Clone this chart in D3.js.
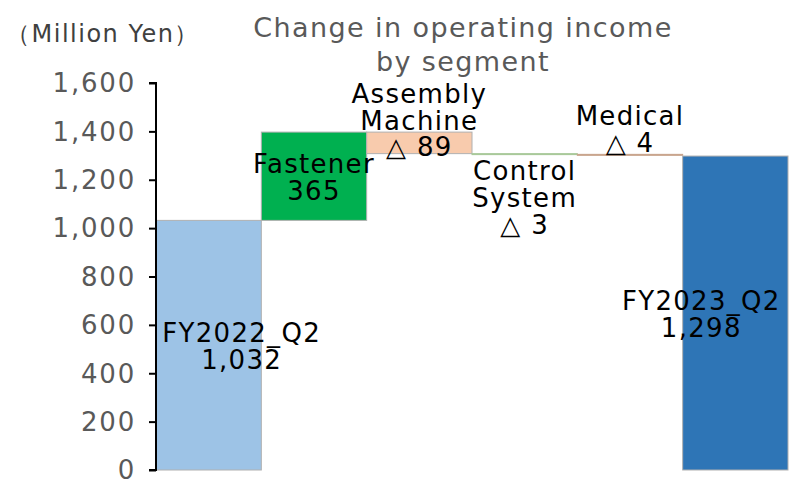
<!DOCTYPE html>
<html>
<head>
<meta charset="utf-8">
<script src="https://cdn.jsdelivr.net/npm/d3@7"></script>
<style>
  body { margin: 0; background: #fff; }
  svg { font-family: "DejaVu Sans", sans-serif; }
</style>
</head>
<body>
<svg id="chart" width="794" height="481"></svg>
<script>
// waterfall data
const categories = ["FY2022_Q2", "Fastener", "Assembly Machine", "Control System", "Medical", "FY2023_Q2"];
const values = [1032, 365, -89, -3, -4, 1298];
const isTotal = [true, false, false, false, false, true];
const nameLines = [["FY2022_Q2"], ["Fastener"], ["Assembly", "Machine"], ["Control", "System"], ["Medical"], ["FY2023_Q2"]];
const valueLabels = ["1,032", "365", "△ 89", "△ 3", "△ 4", "1,298"];
const yTicks = [0, 200, 400, 600, 800, 1000, 1200, 1400, 1600];
const colors = ["#9DC3E6", "#00B050", "#F8CBAD", "#A9C99A", "#C9A58E", "#2E75B6"];

const svg = d3.select("#chart");

const x = d3.scaleBand().domain(categories).range([156, 788]).padding(0);
const y = d3.scaleLinear().domain([0, 1600]).range([470, 83]);

// running totals
let run = 0;
const bars = categories.map((c, i) => {
    let y0, y1;
    if (isTotal[i]) {
        y0 = 0; y1 = values[i]; run = values[i];
    } else {
        y0 = run; y1 = run + values[i]; run = y1;
    }
    return { cat: c, lo: Math.min(y0, y1), hi: Math.max(y0, y1), i: i };
});

svg.selectAll("rect.bar")
    .data(bars)
    .enter()
    .append("rect")
    .attr("class", "bar")
    .attr("x", (d) => x(d.cat))
    .attr("width", x.bandwidth())
    .attr("y", (d) => y(d.hi))
    .attr("height", (d) => Math.max(1, y(d.lo) - y(d.hi)))
    .attr("fill", (d) => colors[d.i])
    .attr("stroke", (d) => (Math.abs(values[d.i]) < 10 ? colors[d.i] : "#b0b0b0"))
    .attr("stroke-width", 1);

// axis
const axis = d3.axisLeft(y).tickValues(yTicks).tickSize(7).tickFormat(d3.format(","));
const gAxis = svg.append("g").attr("transform", "translate(156,0)").call(axis);
gAxis.select(".domain").attr("stroke", "#000").attr("stroke-width", 2)
    .attr("d", `M-7,${y(1600)}H0V${y(0)}H-7`);
gAxis.selectAll(".tick line").attr("stroke", "#000").attr("stroke-width", 2);
gAxis.selectAll(".tick text")
    .attr("x", -20)
    .attr("dy", "0.34em")
    .style("font-size", "26px")
    .style("letter-spacing", "1.8px")
    .style("font-family", "DejaVu Sans, sans-serif")
    .attr("fill", "#595959");

// unit label
svg.append("text")
    .attr("x", 6)
    .attr("y", 42)
    .style("font-size", "24px")
    .style("letter-spacing", "1.5px")
    .attr("fill", "#404040")
    .text("（Million Yen）");

// title
const title = svg.append("text")
    .attr("text-anchor", "middle")
    .style("font-size", "27px")
    .style("letter-spacing", "1.4px")
    .attr("fill", "#595959");
title.append("tspan").attr("x", 463).attr("y", 37).text("Change in operating income");
title.append("tspan").attr("x", 463).attr("y", 71).text("by segment");

// data labels
const lh = 27;
const fs = "26px";
function addLines(lines, cx, firstCenter) {
    const t = svg.append("text").attr("text-anchor", "middle")
        .style("font-size", fs).style("letter-spacing", "1.3px").attr("fill", "#000");
    lines.forEach((s, k) => {
        t.append("tspan").attr("x", cx).attr("y", firstCenter + k * lh).attr("dy", "0.36em").text(s);
    });
}

bars.forEach((d) => {
    let cx = x(d.cat) + x.bandwidth() / 2;
    const top = y(d.hi), bot = y(d.lo);
    const lines = nameLines[d.i].concat([valueLabels[d.i]]);
    if (d.cat === "Assembly Machine") {
        // name above the bar, value inside
        addLines(nameLines[d.i], cx, top - 38);
        addLines([valueLabels[d.i]], cx, (top + bot) / 2 + 4);
    } else if (d.cat === "Control System") {
        addLines(lines, cx, bot + 16);
    } else if (d.cat === "Medical") {
        addLines(lines, cx, top - 39);
    } else {
        // total labels are nudged toward the plot centre, like the source
        if (isTotal[d.i]) cx += d.i === 0 ? 33 : -34;
        const mid = (top + bot) / 2;
        addLines(lines, cx, mid - lh * (lines.length - 1) / 2 + 1);
    }
});
</script>
</body>
</html>
